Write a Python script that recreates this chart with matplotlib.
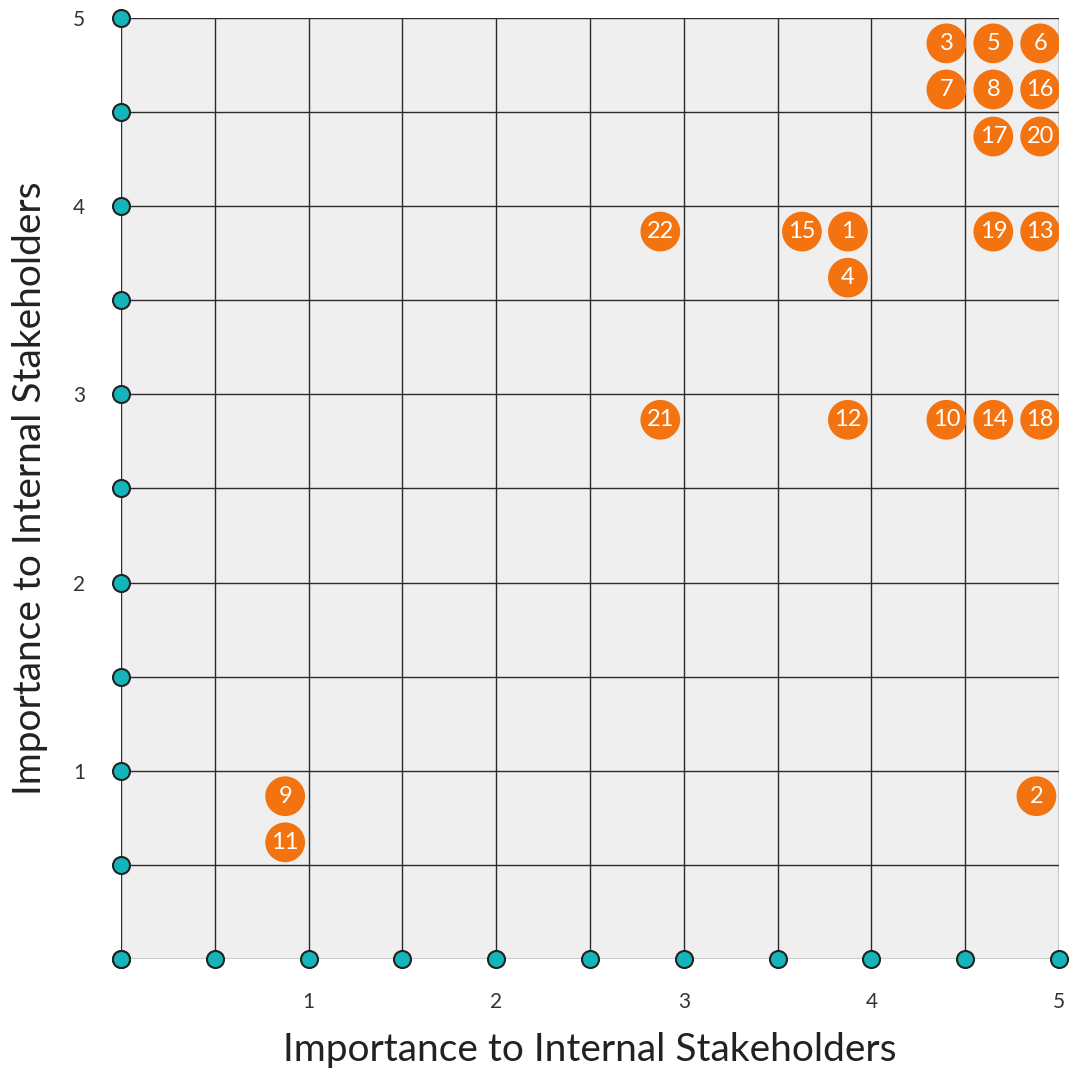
import numpy as np
import matplotlib.pyplot as plt

# numery zagadnien i ich polozenie na macierzy
labels = ["1", "2", "3", "4", "5", "6", "7", "8", "9", "10", "11",
          "12", "13", "14", "15", "16", "17", "18", "19", "20", "21", "22"]
x_vals = [3.875, 4.88, 4.4, 3.875, 4.65, 4.9, 4.4, 4.65, 0.875, 4.4, 0.875,
          3.875, 4.9, 4.65, 3.63, 4.9, 4.65, 4.9, 4.65, 4.9, 2.875, 2.875]
y_vals = [3.865, 0.865, 4.865, 3.62, 4.865, 4.865, 4.62, 4.62, 0.865, 2.865, 0.62,
          2.865, 3.865, 2.865, 3.865, 4.62, 4.37, 2.865, 3.865, 4.37, 2.865, 3.865]

grid_steps = [0, 0.5, 1, 1.5, 2, 2.5, 3, 3.5, 4, 4.5, 5]
tick_vals = [1, 2, 3, 4, 5]
tick_labels = ["1", "2", "3", "4", "5"]

plt.rcParams['font.family'] = ['Lato', 'DejaVu Sans']

fig = plt.figure(figsize=(10.69, 10.75), dpi=100)
ax = fig.add_axes([0.1132, 0.1079, 0.8774, 0.8754])
ax.set_facecolor('#efefef')
ax.set_xlim(0, 5)
ax.set_ylim(0, 5)

for g in grid_steps:
    ax.axvline(g, color='#2b2b2b', lw=1.0, zorder=1)
    ax.axhline(g, color='#2b2b2b', lw=1.0, zorder=1)

for s in ax.spines.values():
    s.set_visible(False)

# kropki na osiach
zeros = [0] * len(grid_steps)
ax.scatter(grid_steps, zeros, s=150, color='#13b5ba', edgecolor='#222222',
           linewidth=1.5, zorder=5, clip_on=False)
ax.scatter(zeros, grid_steps, s=150, color='#13b5ba', edgecolor='#222222',
           linewidth=1.5, zorder=5, clip_on=False)

ax.scatter(x_vals, y_vals, s=820, color='#f37311', edgecolor='none', zorder=6)
for lab, x, y in zip(labels, x_vals, y_vals):
    ax.text(x, y, lab, color='white', fontsize=17, ha='center', va='center', zorder=7)

ax.set_xticks(tick_vals)
ax.set_xticklabels(tick_labels, fontsize=15, color='#333333')
ax.set_yticks(tick_vals)
ax.set_yticklabels(tick_labels, fontsize=15, color='#333333')
ax.tick_params(axis='x', length=0, pad=24)
ax.tick_params(axis='y', length=0, pad=26)

ax.set_xlabel("Importance to Internal Stakeholders", fontsize=28, color='#222222', labelpad=14)
ax.set_ylabel("Importance to Internal Stakeholders", fontsize=28, color='#222222', labelpad=18)

plt.savefig("out.png", dpi=100)
